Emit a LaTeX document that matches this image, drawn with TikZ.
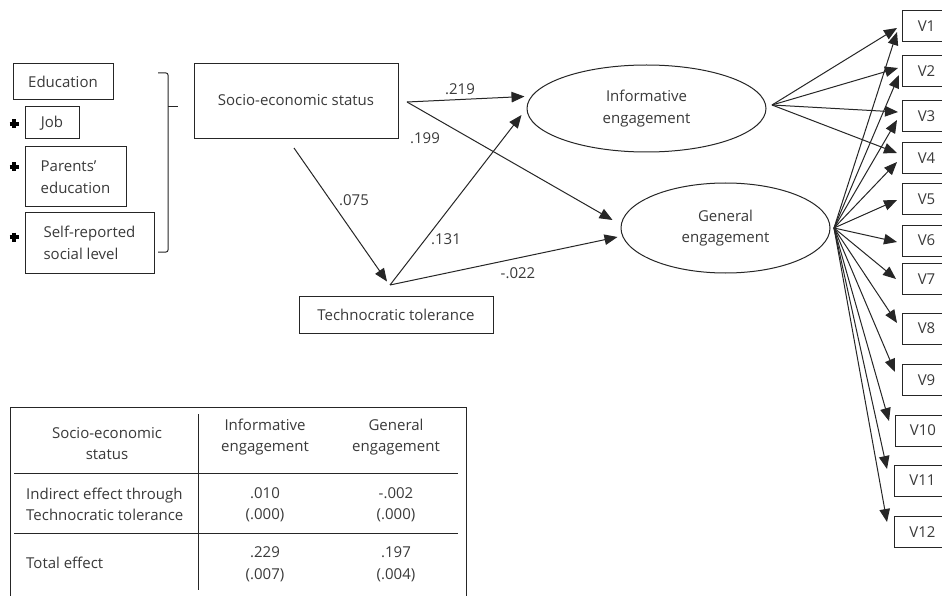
\documentclass[tikz,border=0pt]{standalone}
\usepackage{fontspec}
\setmainfont{Open Sans}
\usetikzlibrary{arrows.meta,calc,shapes.geometric}
\definecolor{txt}{HTML}{3A3A3A}
\definecolor{ln}{HTML}{262626}
\tikzset{
  every node/.style={text=txt,font=\fontsize{15}{21.5}\selectfont},
  ln/.style={draw=ln,line width=1pt},
  arr/.style={ln,-{Triangle[length=13pt,width=10.5pt]}},
  box/.style={ln,rectangle,inner sep=0pt,align=center},
  lbox/.style={ln,rectangle,inner sep=0pt,align=left},
  oval/.style={ln,ellipse,inner sep=0pt,align=center},
  vbox/.style={ln,rectangle,inner sep=0pt,minimum width=48pt,minimum height=31pt,anchor=west},
  lab/.style={inner sep=0pt},
  cell/.style={inner sep=0pt,align=center},
  lcell/.style={inner sep=0pt,align=left,anchor=west},
  plus/.style={draw=black,line width=3.4pt}
}
\begin{document}
\begin{tikzpicture}[x=1pt,y=-1pt]
\useasboundingbox (0,0) rectangle (942,596);
\fill[white] (0,0) rectangle (942,596);
% left indicator boxes
\node[box,minimum width=100pt,minimum height=36pt] (edu) at (63,82) {Education};
\node[box,minimum width=54pt,minimum height=32pt] (job) at (52,123) {Job};
\node[lbox,minimum width=101pt,minimum height=60pt] (par) at (75.5,177) {Parents’\\education};
\node[lbox,minimum width=129pt,minimum height=60pt] (self) at (89.5,243) {Self-reported\\social level};
\foreach \y in {124,167,237}{
  \draw[plus] (9.5,\y) -- (18.5,\y);
  \draw[plus] (14,\y-4.5) -- (14,\y+4.5);
}
% bracket
\draw[ln,rounded corners=2pt] (158,73) -- (168,73) -- (168,252) -- (158,252);
\draw[ln] (168,107) -- (178,107);
% main nodes
\node[box,minimum width=204pt,minimum height=75pt] (ses) at (296,101.5) {\raisebox{3pt}{Socio-economic status}};
\node[box,minimum width=194pt,minimum height=37pt] (tech) at (396,314.5) {Technocratic tolerance};
\node[oval,minimum width=239pt,minimum height=87pt] (inf) at (646.5,108.5) {Informative\\engagement};
\node[oval,minimum width=209pt,minimum height=90pt] (gen) at (725.5,228) {General\\engagement};
% path vertices
\coordinate (sv) at (407,102);
\coordinate (sb) at (294,148);
\coordinate (tv) at (390,285);
\coordinate (iv) at (772,105);
\coordinate (gv) at (834,228);
% structural arrows
\draw[arr] (sv) -- ($(inf.west)+(-2,-12)$);
\draw[arr] (sv) -- ($(gen.west)+(-8,-8)$);
\draw[arr] (sb) -- ($(tech.north)+(-9,-14)$);
\draw[arr] (tv) -- ($(inf.west)+(-5,6.5)$);
\draw[arr] (tv) -- ($(gen.west)+(-3,9)$);
\node[lab] (l219) at (460,89) {.219};
\node[lab] (l199) at (425,138) {.199};
\node[lab] (l075) at (354,200) {.075};
\node[lab] (l131) at (446,239) {.131};
\node[lab] (l022) at (518,273) {-.022};
\begin{scope}
\clip (0,0) rectangle (942,596);
% indicator boxes
\node[vbox] (v1) at (902,26.5) {V1};
\node[vbox] (v2) at (902,71) {V2};
\node[vbox] (v3) at (902,116) {V3};
\node[vbox] (v4) at (902,158) {V4};
\node[vbox] (v5) at (902,199) {V5};
\node[vbox] (v6) at (902,240.5) {V6};
\node[vbox] (v7) at (902,279) {V7};
\node[vbox] (v8) at (902,328.5) {V8};
\node[vbox] (v9) at (902,380) {V9};
\node[vbox,minimum width=55pt] (v10) at (895,430.5) {V10};
\node[vbox,minimum width=56pt] (v11) at (894,480.5) {V11};
\node[vbox,minimum width=56pt] (v12) at (894,532) {V12};
% loadings informative
\draw[arr] (iv) -- ($(v1.west)+(-5,1.5)$);
\draw[arr] (iv) -- ($(v2.west)+(-4,-3)$);
\draw[arr] (iv) -- ($(v3.west)+(-4,-4)$);
\draw[arr] (iv) -- ($(v4.west)+(-5,-5)$);
% loadings general
\draw[arr] (gv) -- ($(v1.west)+(-5,5.5)$);
\draw[arr] (gv) -- ($(v2.west)+(-3,4)$);
\draw[arr] (gv) -- ($(v3.west)+(-5,4)$);
\draw[arr] (gv) -- ($(v4.west)+(-5,4)$);
\draw[arr] (gv) -- ($(v5.west)+(-5,1)$);
\draw[arr] (gv) -- ($(v6.west)+(-5,1.5)$);
\draw[arr] (gv) -- ($(v7.west)+(-6,0)$);
\draw[arr] (gv) -- ($(v8.west)+(-5,-5.5)$);
\draw[arr] (gv) -- ($(v9.west)+(-7,-8)$);
\draw[arr] (gv) -- ($(v10.west)+(-6,-9.5)$);
\draw[arr] (gv) -- ($(v11.west)+(-7,-11.5)$);
\draw[arr] (gv) -- ($(v12.west)+(-7,-10)$);
% table
\draw[ln] (10,407) rectangle (466,620);
\draw[ln] (198,414) -- (198,590);
\draw[ln] (14,473) -- (458,473);
\draw[ln] (14,533) -- (458,533);
\node[cell] (t11) at (107,443.5) {Socio-economic\\status};
\node[cell] (t12) at (265,437) {Informative\\engagement};
\node[cell] (t13) at (396,437) {General\\engagement};
\node[lcell] (t21) at (26,504.5) {Indirect effect through\\Technocratic tolerance};
\node[cell] (t22) at (265,504.5) {.010\\(.000)};
\node[cell] (t23) at (396,504.5) {-.002\\(.000)};
\node[lcell] (t31) at (26,563) {Total effect};
\node[cell] (t32) at (265,564.5) {.229\\(.007)};
\node[cell] (t33) at (396,564.5) {.197\\(.004)};
\end{scope}
\end{tikzpicture}
\end{document}
